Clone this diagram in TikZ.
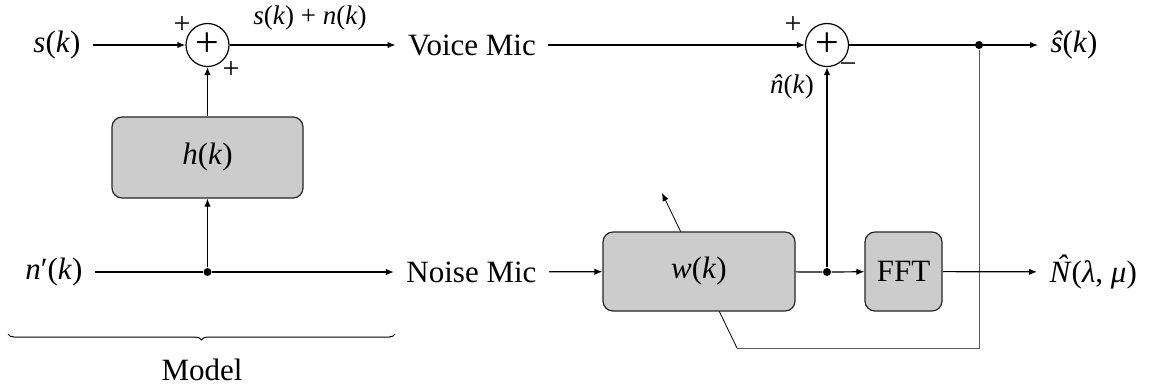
\documentclass[tikz,border=0pt]{standalone}
\usepackage{fontspec}
\setmainfont{Liberation Serif}
\usetikzlibrary{arrows.meta,decorations.pathreplacing,backgrounds}
\newcommand{\iv}[1]{\textit{#1}}
\newcommand{\hatx}[1]{\textit{\accent"02C6 #1}}
\begin{document}
\begin{tikzpicture}[x=0.5pt,y=-0.5pt,
  font=\fontsize{15.5}{18}\selectfont,
  line width=0.6pt,
  >={Latex[length=4pt,width=3.2pt]},
  lbl/.style={inner xsep=6pt,inner ysep=2pt},
  blk/.style={draw=black!85,fill=black!20,rounded corners=5pt,inner sep=0pt},
  sumn/.style={draw,circle,minimum size=21.5pt,inner sep=0pt,font=\fontsize{21}{21}\selectfont},
  dotn/.style={circle,fill,inner sep=0pt,minimum size=4pt},
  sml/.style={font=\fontsize{13.5}{15}\selectfont,inner sep=1pt},
  sgn/.style={font=\fontsize{15}{16}\selectfont,inner sep=0pt},
  fb/.style={draw=black!65}]
\useasboundingbox (0,0) rectangle (1158,388);
% nodes
\node[lbl,anchor=east] (sk) at (93,45) {\iv{s}(\iv{k})};
\node[sumn] (s1) at (207.5,45) {+};
\node[lbl] (vm) at (472,45) {Voice Mic};
\node[blk,minimum width=95.5pt,minimum height=40.5pt] (hk) at (207.5,157.5) {\iv{h}(\iv{k})};
\node[lbl,anchor=east] (nk) at (95,272) {\iv{n}′(\iv{k})};
\node[dotn] (d1) at (207.5,272) {};
\node[lbl] (nm) at (471.5,272) {Noise Mic};
\node[blk,minimum width=96pt,minimum height=39.5pt] (wk) at (699,271.5) {\iv{w}(\iv{k})};
\node[dotn] (d2) at (827,272) {};
\node[blk,minimum width=38.5pt,minimum height=39.5pt] (fft) at (903.5,271.5) {FFT};
\node[lbl,anchor=west] (nhat) at (1037,272) {\hatx{N}(\iv{λ}, \iv{μ})};
\node[sumn] (s2) at (827,45) {+};
\node[dotn] (d3) at (979,45) {};
\node[lbl,anchor=west] (shat) at (1038,45) {\hatx{s}(\iv{k})};
% labels
\node[sml] (lsn) at (310,18) {\iv{s}(\iv{k}) + \iv{n}(\iv{k})};
\node[sgn] (p1) at (182,25) {+};
\node[sgn] (p2) at (231,70) {+};
\node[sgn] (p3) at (793,25) {+};
\node[sgn] (m1) at (848,68) {−};
\node[sml] (lnh) at (792,87) {\hatx{n}(\iv{k})};
\coordinate (fbc) at (737,348);
\coordinate (adt) at (662,193);
\coordinate (bl) at (8,334);
\coordinate (br) at (395,334);
\node (model) at (202,370) {Model};
% connectors
\draw[->] (sk) -- (s1);
\draw[->] (s1) -- (vm);
\draw[->] (vm) -- (s2);
\draw[->] (s2) -- (shat);
\draw[->] (hk) -- (s1);
\draw (nk) -- (d1);
\draw[->] (d1) -- (nm);
\draw[->] (d1) -- (hk);
\draw[->] (nm) -- (wk);
\draw (wk) -- (d2);
\draw[->] (d2) -- (fft);
\draw[->] (d2) -- (s2);
\draw[->] (fft) -- (nhat);
\begin{scope}[on background layer]
\draw[fb] (d3) |- (fbc);
\draw[->] (fbc) -- (adt);
\end{scope}
\draw[decorate,decoration={brace,mirror,amplitude=3pt},line width=0.5pt] (bl) -- (br);
\end{tikzpicture}
\end{document}
